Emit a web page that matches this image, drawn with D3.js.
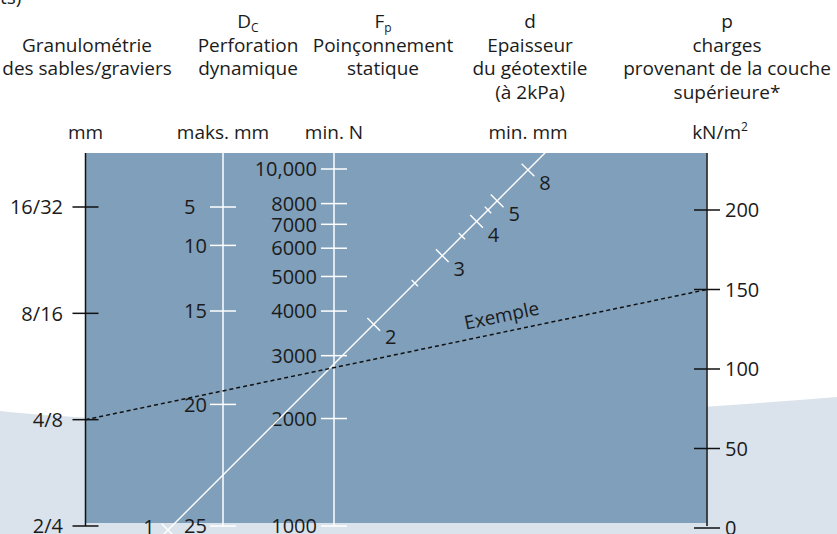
<!DOCTYPE html>
<html>
<head>
<meta charset="utf-8">
<script src="https://cdn.jsdelivr.net/npm/d3@7"></script>
<style>
  body { margin: 0; background: #fff; }
  svg { display: block; font-family: "Open Sans", sans-serif; }
</style>
</head>
<body>
<svg id="chart" width="837" height="534"></svg>
<script>
// Nomogram: geotextile selection (granulometry / Dc / Fp / d / p)

const granLabels = ["2/4", "4/8", "8/16", "16/32"];
const dcTicks = [5, 10, 15, 20, 25];
const fpTicks = [1000, 2000, 3000, 4000, 5000, 6000, 7000, 8000, 10000];
const fpLabels = ["1000", "2000", "3000", "4000", "5000", "6000", "7000", "8000", "10,000"];
const dMajor = [1, 2, 3, 4, 5, 8];
const dMinor = [2.5, 3.5, 4.5];
const pTicks = [0, 50, 100, 150, 200];

const exampleGran = "4/8";
const exampleP = 150;
const exampleLabel = "Exemple";

const headers = [
  ["", "Granulométrie", "des sables/graviers"],
  [["D", "C"], "Perforation", "dynamique"],
  [["F", "p"], "Poinçonnement", "statique"],
  ["d", "Epaisseur", "du géotextile", "(à 2kPa)"],
  ["p", "charges", "provenant de la couche", "supérieure*"]
];
const units = ["mm", "maks. mm", "min. N", "min. mm", ["kN/m", "2"]];

const svg = d3.select("#chart");
const W = 837, H = 534;

const panel = { left: 85.5, right: 706.5, top: 153, bottom: 523 };
const axisEnd = 526;
const xGran = 85.5, xDc = 223, xFp = 334, xP = 707;
const headerX = [87, 248, 383, 530, 727];
const unitX = [xGran, xDc, xFp, 528, 720];
const textColor = "#1b1b1b";

// scales
const yGran = d3.scalePoint().domain(granLabels).range([526, 207]);
const yDc = d3.scalePow().exponent(2.05).domain([5, 25]).range([207, 526]);
const yFp = d3.scaleLog().domain([1000, 10000]).range([526, 169]);
const yP = d3.scaleLinear().domain([0, 200]).range([528, 210]);

// d axis is a diagonal line, linear in 1/d
const dPos = d3.scalePow().exponent(-1).domain([1, 8]).range([0, 1]);
const p1 = [168, 530], p8 = [528, 170];
function dPoint(v){
  const t = dPos(v);
  return [p1[0] + t * (p8[0] - p1[0]), p1[1] + t * (p8[1] - p1[1])];
}

// background wave
svg.append("path")
  .attr("d", "M0,411 C150,428 500,425 837,397 L837,534 L0,534 Z")
  .attr("fill", "#dae2eb");

svg.append("rect")
  .attr("x", panel.left)
  .attr("y", panel.top)
  .attr("width", panel.right - panel.left)
  .attr("height", panel.bottom - panel.top)
  .attr("fill", "#7f9fba");

// fragment of text cut at top-left corner
svg.append("text")
  .attr("x", 0)
  .attr("y", 4)
  .style("font-size", "19px")
  .attr("fill", textColor)
  .text("ts)");

// headers
headers.forEach((col, i) => {
  col.forEach((line, j) => {
    if(line === "") return;
    const t = svg.append("text")
      .attr("x", headerX[i])
      .attr("y", 28 + j * 23.5)
      .attr("text-anchor", "middle")
      .style("font-size", "19px")
      .attr("fill", textColor);
    if(Array.isArray(line)){
      t.append("tspan").text(line[0]);
      t.append("tspan").attr("dy", 4).style("font-size", "12px").text(line[1]);
    } else {
      t.text(line);
    }
  });
});

units.forEach((u, i) => {
  const t = svg.append("text")
    .attr("x", unitX[i])
    .attr("y", 139)
    .attr("text-anchor", "middle")
    .style("font-size", "19px")
    .attr("fill", textColor);
  if(Array.isArray(u)){
    t.append("tspan").text(u[0]);
    t.append("tspan").attr("dy", -8).style("font-size", "12px").text(u[1]);
  } else {
    t.text(u);
  }
});

// generic vertical axis helper
function vAxis(x, scale, values, labels, color, labelDx, anchor){
  const g = svg.append("g");
  g.append("line")
    .attr("x1", x).attr("x2", x)
    .attr("y1", panel.top).attr("y2", axisEnd)
    .attr("stroke", color)
    .attr("stroke-width", 1.5);
  g.selectAll(".tick")
    .data(values)
    .enter()
    .append("line")
    .attr("x1", x - 13).attr("x2", x + 13)
    .attr("y1", d => scale(d)).attr("y2", d => scale(d))
    .attr("stroke", color)
    .attr("stroke-width", 1.5);
  g.selectAll(".lbl")
    .data(values)
    .enter()
    .append("text")
    .attr("x", x + labelDx)
    .attr("y", d => scale(d))
    .attr("dy", "0.36em")
    .attr("text-anchor", anchor)
    .style("font-size", "20px")
    .attr("fill", textColor)
    .text((d, i) => labels[i]);
}

vAxis(xGran, yGran, granLabels, granLabels, "#111", -22.5, "end");
vAxis(xDc, yDc, dcTicks, dcTicks.map(String), "#fff", -39, "start");
vAxis(xFp, yFp, fpTicks, fpLabels, "#fff", -17, "end");
vAxis(xP, yP, pTicks, pTicks.map(String), "#111", 18, "start");

// diagonal d axis
const a = dPoint(0.98), b = dPoint(12);
svg.append("line")
  .attr("x1", a[0]).attr("y1", a[1])
  .attr("x2", b[0]).attr("y2", b[1])
  .attr("stroke", "#fff")
  .attr("stroke-width", 1.4);

const len = Math.hypot(p8[0] - p1[0], p8[1] - p1[1]);
const perp = [-(p8[1] - p1[1]) / len, (p8[0] - p1[0]) / len];
if(perp[0] < 0){ perp[0] = -perp[0]; perp[1] = -perp[1]; }

function crossTicks(values, half){
  svg.selectAll(null)
    .data(values)
    .enter()
    .append("line")
    .attr("x1", d => dPoint(d)[0] - perp[0] * half)
    .attr("y1", d => dPoint(d)[1] - perp[1] * half)
    .attr("x2", d => dPoint(d)[0] + perp[0] * half)
    .attr("y2", d => dPoint(d)[1] + perp[1] * half)
    .attr("stroke", "#fff")
    .attr("stroke-width", 1.4);
}
crossTicks(dMajor, 9);
crossTicks(dMinor, 4.5);

svg.selectAll(".d-label")
  .data(dMajor)
  .enter()
  .append("text")
  .attr("x", d => dPoint(d)[0] + (d === 1 ? -19 : 17))
  .attr("y", d => dPoint(d)[1] + (d === 1 ? -3 : 13))
  .attr("dy", "0.36em")
  .attr("text-anchor", "middle")
  .style("font-size", "20px")
  .attr("fill", textColor)
  .text(d => d);

// example line
const e0 = [xGran, yGran(exampleGran)], e1 = [xP, yP(exampleP)];
svg.append("line")
  .attr("x1", e0[0]).attr("y1", e0[1])
  .attr("x2", e1[0]).attr("y2", e1[1])
  .attr("stroke", "#111")
  .attr("stroke-width", 1.5)
  .attr("stroke-dasharray", "4,3");

const ang = Math.atan2(e1[1] - e0[1], e1[0] - e0[0]) * 180 / Math.PI;
const f = 0.675;
const ex = e0[0] + f * (e1[0] - e0[0]);
const ey = e0[1] + f * (e1[1] - e0[1]);
svg.append("text")
  .attr("transform", `translate(${ex},${ey}) rotate(${ang})`)
  .attr("y", -10)
  .attr("text-anchor", "middle")
  .style("font-size", "19px")
  .attr("fill", textColor)
  .text(exampleLabel);
</script>
</body>
</html>
